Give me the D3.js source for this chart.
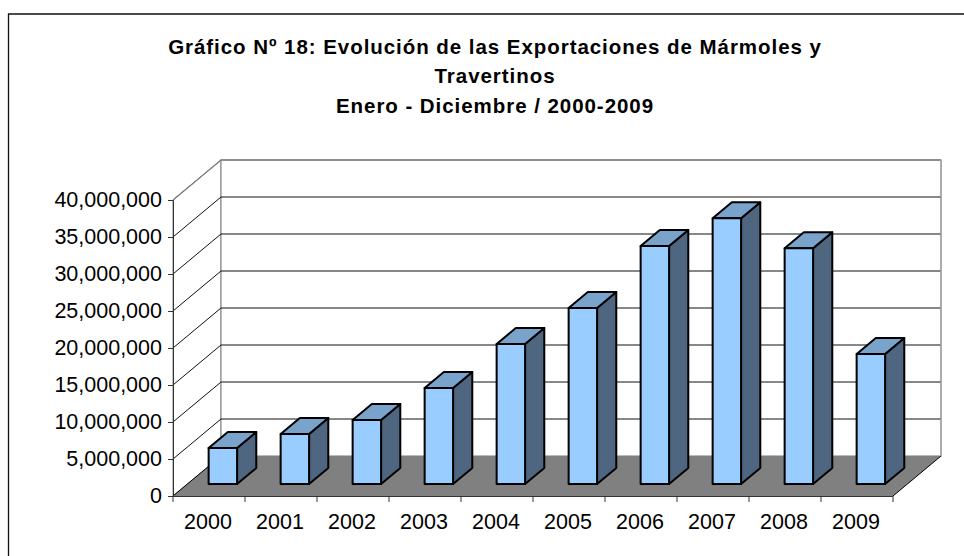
<!DOCTYPE html>
<html><head><meta charset="utf-8">
<script src="https://cdn.jsdelivr.net/npm/d3@7/dist/d3.min.js"></script>
<style>html,body{margin:0;background:#fff}svg{display:block}text{font-family:"Liberation Sans",Arial,sans-serif;fill:#000}</style>
</head><body><svg id="c" width="964" height="556"></svg>
<script>
const years = ["2000","2001","2002","2003","2004","2005","2006","2007","2008","2009"];
const exportsValues = [4860000,6760000,8650000,12970000,18920000,23780000,32160000,35900000,31860000,17570000];
const yTicks = [0,5000000,10000000,15000000,20000000,25000000,30000000,35000000,40000000];
const titleLines = ["Gráfico Nº 18: Evolución de las Exportaciones de Mármoles y","Travertinos","Enero - Diciembre / 2000-2009"];

const svg = d3.select("#c");
const X0=173, X1=893, Y0=496, Y1=200, DX=48, DY=-40;
const x = d3.scaleBand().domain(years).range([X0,X1]);
const y = d3.scaleLinear().domain([0,40000000]).range([Y0,Y1]);
const depth = d => [d*DX, d*DY];
const path = pts => d3.line()(pts);

// frame
svg.append("path").attr("d","M8.5,556V14H964").attr("fill","none").attr("stroke","#111").attr("stroke-width",1.3);

// title
svg.append("g").selectAll("text").data(titleLines).join("text")
  .attr("x",495).attr("y",(d,i)=>53.5+i*29.5).attr("text-anchor","middle")
  .attr("font-size",20.5).attr("letter-spacing",0.95).attr("font-weight","bold").text(d=>d);

// walls
svg.append("path").attr("d",path([[X0,Y0],[X0,Y1],[X0+DX,Y1+DY],[X0+DX,Y0+DY]])+"Z").attr("fill","#fff").attr("stroke","#808080");
svg.append("rect").attr("x",X0+DX).attr("y",Y1+DY).attr("width",X1-X0).attr("height",Y0-Y1)
   .attr("fill","#fff").attr("stroke","#8c8c8c").attr("stroke-width",1.2);
// floor
svg.append("path").attr("d",path([[X0,Y0],[X1,Y0],[X1+DX,Y0+DY],[X0+DX,Y0+DY]])+"Z").attr("fill","#808080");
svg.append("path").attr("d",path([[X0,Y0],[X0+DX,Y0+DY]])+`M${X1},${Y0}L${X1+DX},${Y0+DY}`).attr("stroke","#000").attr("stroke-width",1).attr("fill","none");

// gridlines
const grid = svg.append("g").attr("fill","none").attr("stroke-width",1);
yTicks.slice(1).forEach(t=>{
  grid.append("path").attr("d",path([[X0,y(t)],[X0+DX,y(t)+DY],[X1+DX,y(t)+DY]]))
      .attr("stroke",t===40000000?"#808080":"#111");
});
svg.append("path").attr("d",path([[X0,Y1],[X0+DX,Y1+DY],[X1+DX,Y1+DY]])).attr("fill","none").attr("stroke","#808080").attr("stroke-width",1.2);
svg.append("line").attr("x1",X1+DX).attr("x2",X1+DX).attr("y1",Y1+DY).attr("y2",Y0+DY).attr("stroke","#a6a6a6").attr("stroke-width",1.4);

// bars
const barFront=0.3, barBack=0.7, bandFrom=0.295, bandTo=0.69;
const bars = svg.append("g").selectAll("g").data(years.map((k,i)=>({k,v:exportsValues[i]}))).join("g")
  .attr("stroke","#000").attr("stroke-width",2).attr("stroke-linejoin","round");
const corners = d=>{
  const [fx,fy]=depth(barFront),[bx,by]=depth(barBack);
  const l=x(d.k)+x.bandwidth()*bandFrom, r=x(d.k)+x.bandwidth()*bandTo, t=y(d.v), b=y(0);
  return {f:[[l+fx,b+fy],[r+fx,b+fy],[r+fx,t+fy],[l+fx,t+fy]],
          side:[[r+fx,b+fy],[r+bx,b+by],[r+bx,t+by],[r+fx,t+fy]],
          top:[[l+fx,t+fy],[r+fx,t+fy],[r+bx,t+by],[l+bx,t+by]]};
};
bars.append("path").attr("d",d=>path(corners(d).side)+"Z").attr("fill","#4f6680");
bars.append("path").attr("d",d=>path(corners(d).top)+"Z").attr("fill","#7aa3cc");
bars.append("path").attr("d",d=>path(corners(d).f)+"Z").attr("fill","#99ccff");

// axes
const yAxis = d3.axisLeft(y).tickValues(yTicks).tickSize(5).tickPadding(6).tickFormat(d3.format(","));
const gy = svg.append("g").attr("transform",`translate(${X0},0)`).call(yAxis);
const xAxis = d3.axisBottom(x).tickSize(0).tickPadding(18);
const gx = svg.append("g").attr("transform",`translate(-1,${Y0})`).call(xAxis);
gx.select(".domain").remove();
svg.append("g").selectAll("line").data(d3.range(years.length+1)).join("line")
  .attr("x1",i=>X0+i*x.step()).attr("x2",i=>X0+i*x.step()).attr("y1",Y0).attr("y2",Y0+6).attr("stroke","#333");
svg.append("line").attr("x1",X0).attr("x2",X1).attr("y1",Y0+0.5).attr("y2",Y0+0.5).attr("stroke","#333");
gy.select(".domain").attr("stroke","#333");
gy.selectAll("line").attr("stroke","#333");
svg.selectAll(".tick text").attr("font-size",21.5).attr("font-family",'"Liberation Sans",Arial,sans-serif').attr("fill","#111");
</script></body></html>
